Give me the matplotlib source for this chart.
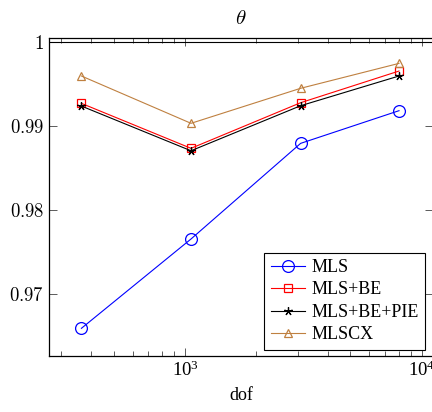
# theta vs dof, log x axis
import numpy as np
import matplotlib
matplotlib.use("Agg")
import matplotlib.pyplot as plt
from matplotlib.ticker import LogLocator, NullFormatter, FixedLocator, FixedFormatter

plt.rcParams['font.family'] = ['Liberation Serif', 'DejaVu Serif']
plt.rcParams['mathtext.fontset'] = 'cm'

dof = [365, 1060, 3080, 8020]
mls = [0.96596, 0.97657, 0.98793, 0.99181]
mls_be = [0.99268, 0.98734, 0.99276, 0.99652]
mls_be_pie = [0.99236, 0.98705, 0.99240, 0.99593]
mlscx = [0.99593, 0.99031, 0.99447, 0.99743]

yticks = [0.97, 0.98, 0.99, 1.0]
ytick_labels = ['$0.97$', '$0.98$', '$0.99$', '$1$']

fig = plt.figure(figsize=(4.32, 4.12), dpi=100)
ax = fig.add_axes([0.1141, 0.1359, 0.8875, 0.773])

lw = 0.8
ax.plot(dof, mls, color='blue', lw=lw, marker='o', ms=8.5, mfc='none', mew=0.9, label='MLS')
ax.plot(dof, mls_be, color='red', lw=lw, marker='s', ms=6, mfc='none', mew=0.9, label='MLS+BE')
ax.plot(dof, mls_be_pie, color='black', lw=lw, marker=(5, 2, 0), ms=6, mew=0.9, label='MLS+BE+PIE')
ax.plot(dof, mlscx, color=(0.75, 0.5, 0.25), lw=lw, marker='^', ms=6, mfc='none', mew=0.9, label='MLSCX')
ax.axhline(1.0, color='black', lw=0.8)

ax.set_xscale('log')
ax.set_xlim(267, 11130)
ax.set_ylim(0.96267, 1.0005)
ax.xaxis.set_minor_locator(LogLocator(base=10, subs=np.arange(2, 10)))
ax.xaxis.set_minor_formatter(NullFormatter())
ax.yaxis.set_major_locator(FixedLocator(yticks))
ax.yaxis.set_major_formatter(FixedFormatter(ytick_labels))

ax.tick_params(which='both', direction='in', top=True, right=True, labelsize=13.5, color='0.25', width=0.6)
ax.tick_params(which='major', length=6)
ax.tick_params(which='minor', length=3.5)
for s in ax.spines.values():
    s.set_linewidth(0.9)

ax.set_xlabel('dof', fontsize=13, labelpad=5)
ax.set_title(r'$\theta$', fontsize=15, pad=10)

leg = ax.legend(loc='lower right', bbox_to_anchor=(0.98, 0.02), borderaxespad=0,
                fontsize=13, fancybox=False, edgecolor='black', framealpha=1,
                handlelength=1.9, handletextpad=0.35, labelspacing=0.3, borderpad=0.35)
leg.get_frame().set_linewidth(0.8)

fig.savefig('out.png', dpi=100)
